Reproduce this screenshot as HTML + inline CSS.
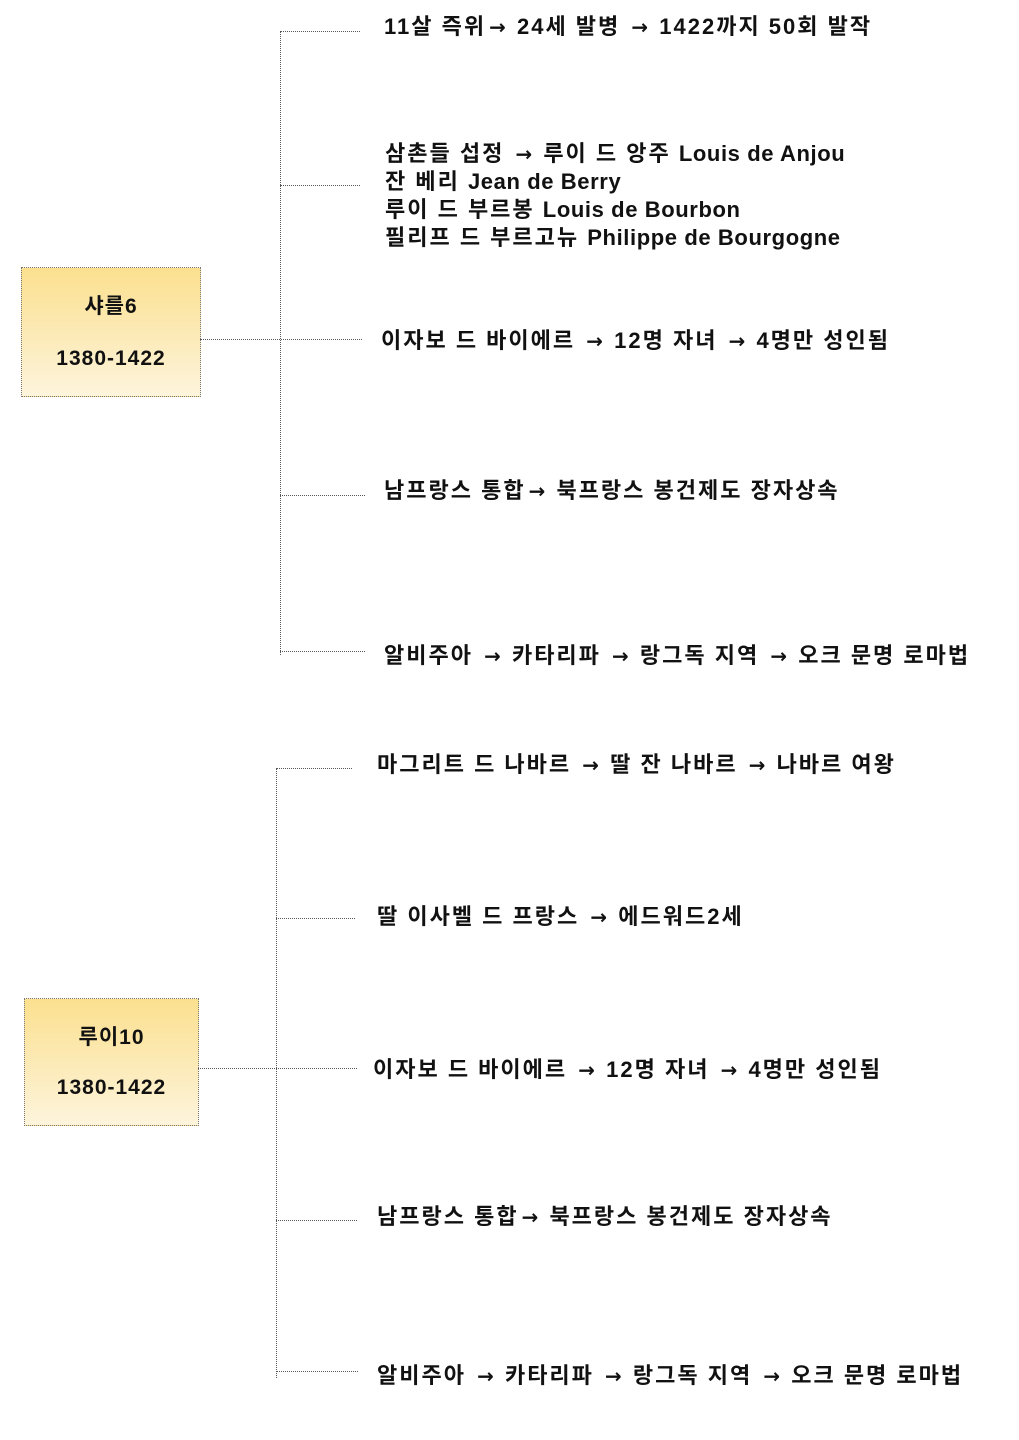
<!DOCTYPE html>
<html><head><meta charset="utf-8"><style>
body{margin:0;width:1019px;height:1440px;background:#fff;position:relative;overflow:hidden;font-family:"Liberation Sans","Noto Sans CJK KR",sans-serif;font-weight:bold;color:#111}
.t{position:absolute;font-size:22px;line-height:28px;white-space:nowrap;letter-spacing:2px}
.l{letter-spacing:0.6px}
.a{font-family:"DejaVu Sans",sans-serif;font-size:20px;letter-spacing:0;margin:0 3px}
.box{position:absolute;border:1.5px dotted #777;background:linear-gradient(#fbe08f,#fdf4dc);text-align:center;font-size:21px;letter-spacing:1px}
.v{position:absolute;border-left:1.5px dotted #555;width:0}
.h{position:absolute;border-top:1.5px dotted #555;height:0}
</style></head><body>
<div class="box" style="left:21px;top:267px;width:178px;height:128px"><div style="position:absolute;top:22px;width:100%">샤를6</div><div style="position:absolute;top:79px;width:100%">1380-1422</div></div>
<div class="v" style="left:280px;top:31px;height:624px"></div>
<div class="h" style="left:280px;top:31px;width:80px"></div>
<div class="h" style="left:280px;top:185px;width:80px"></div>
<div class="h" style="left:200px;top:339px;width:162px"></div>
<div class="h" style="left:280px;top:495px;width:85px"></div>
<div class="h" style="left:280px;top:651px;width:85px"></div>
<div class="t" style="left:384px;top:13px">11살 즉위<span class="a">→</span> 24세 발병 <span class="a">→</span> 1422까지 50회 발작</div>
<div class="t" style="left:385px;top:140px">삼촌들 섭정 <span class="a">→</span> 루이 드 앙주 <span class="l">Louis de Anjou</span><br>잔 베리 <span class="l">Jean de Berry</span><br>루이 드 부르봉 <span class="l">Louis de Bourbon</span><br>필리프 드 부르고뉴 <span class="l">Philippe de Bourgogne</span></div>
<div class="t" style="left:381px;top:327px">이자보 드 바이에르 <span class="a">→</span> 12명 자녀 <span class="a">→</span> 4명만 성인됨</div>
<div class="t" style="left:384px;top:477px">남프랑스 통합<span class="a">→</span> 북프랑스 봉건제도 장자상속</div>
<div class="t" style="left:384px;top:642px">알비주아 <span class="a">→</span> 카타리파 <span class="a">→</span> 랑그독 지역 <span class="a">→</span> 오크 문명 로마법</div>

<div class="box" style="left:24px;top:998px;width:173px;height:126px"><div style="position:absolute;top:22px;width:100%">루이10</div><div style="position:absolute;top:77px;width:100%">1380-1422</div></div>
<div class="v" style="left:276px;top:768px;height:610px"></div>
<div class="h" style="left:276px;top:768px;width:76px"></div>
<div class="h" style="left:276px;top:918px;width:79px"></div>
<div class="h" style="left:198px;top:1068px;width:159px"></div>
<div class="h" style="left:276px;top:1220px;width:81px"></div>
<div class="h" style="left:276px;top:1371px;width:82px"></div>
<div class="t" style="left:377px;top:751px">마그리트 드 나바르 <span class="a">→</span> 딸 잔 나바르 <span class="a">→</span> 나바르 여왕</div>
<div class="t" style="left:377px;top:903px">딸 이사벨 드 프랑스 <span class="a">→</span> 에드워드2세</div>
<div class="t" style="left:373px;top:1056px">이자보 드 바이에르 <span class="a">→</span> 12명 자녀 <span class="a">→</span> 4명만 성인됨</div>
<div class="t" style="left:377px;top:1203px">남프랑스 통합<span class="a">→</span> 북프랑스 봉건제도 장자상속</div>
<div class="t" style="left:377px;top:1362px">알비주아 <span class="a">→</span> 카타리파 <span class="a">→</span> 랑그독 지역 <span class="a">→</span> 오크 문명 로마법</div>
</body></html>
